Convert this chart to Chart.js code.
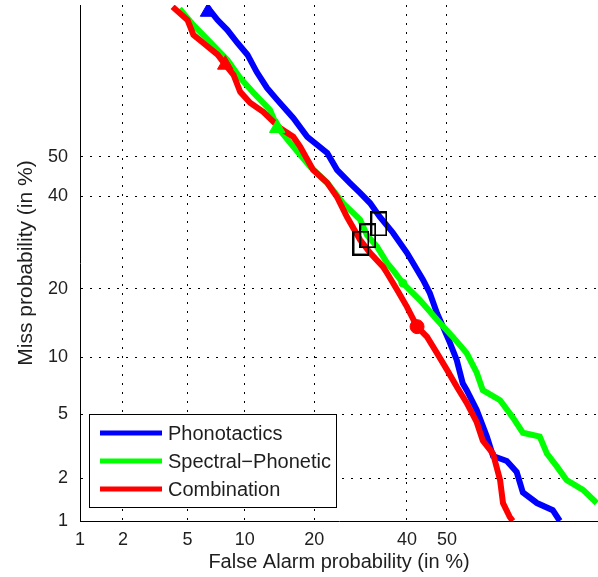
<!DOCTYPE html>
<html>
<head>
<meta charset="utf-8">
<script src="https://cdn.jsdelivr.net/npm/chart.js@4"></script>
<style>
  html, body { margin: 0; padding: 0; background: #fff; }
  #det { display: block; }
</style>
</head>
<body>
<canvas id="det" width="598" height="577"></canvas>
<script>
// Valores (en %)
const faTicks = [1, 2, 5, 10, 20, 40, 50];
const missTicks = [1, 2, 5, 10, 20, 40, 50];
const faRange = [1, 83.1];
const missRange = [1, 83.4];

const phonoFa   = [6.5, 7.3, 8.2, 9.2, 10.3, 11.4, 12.7, 14.1, 16.5, 18.8, 22.4, 24.3, 26.9, 29.1, 31.3, 33.5, 36.6, 40.0, 41.5, 44.0, 45.7, 47.5, 49.0, 50.8, 52.5, 54.0, 55.0, 57.5, 60.0, 61.5, 64.8, 67.1, 68.5, 71.6, 74.9, 76.3];
const phonoMiss = [82.9, 80.9, 79.1, 76.7, 74.3, 70.6, 67.0, 64.2, 59.8, 55.1, 51.0, 46.7, 43.4, 40.9, 38.4, 35.1, 31.4, 27.0, 24.9, 21.6, 19.2, 15.9, 13.9, 11.7, 9.7, 7.4, 6.8, 5.3, 3.7, 2.8, 2.6, 2.2, 1.6, 1.35, 1.2, 1.0];

const specFa   = [4.5, 5.4, 6.1, 8.2, 9.5, 11.0, 13.1, 14.1, 16.5, 19.3, 22.4, 25.5, 29.1, 30.6, 32.9, 35.2, 36.6, 39.0, 43.2, 47.5, 51.5, 55.0, 57.5, 59.0, 63.2, 66.2, 68.5, 72.2, 73.7, 75.7, 77.6, 80.6, 82.9];
const specMiss = [82.8, 80.0, 78.2, 73.2, 69.3, 65.9, 61.8, 57.6, 52.6, 47.5, 43.4, 38.4, 34.4, 30.9, 28.3, 24.9, 23.5, 21.0, 18.0, 14.9, 12.5, 10.5, 8.4, 6.8, 6.0, 4.8, 3.9, 3.7, 2.9, 2.4, 1.95, 1.67, 1.35];

const combFa   = [4.1, 5.0, 5.4, 6.1, 7.3, 8.0, 8.8, 9.5, 10.6, 12.2, 14.5, 16.5, 17.6, 19.8, 22.4, 24.3, 26.3, 29.1, 31.3, 34.3, 35.2, 37.6, 40.0, 42.5, 45.0, 47.5, 50.0, 52.5, 55.0, 57.5, 59.0, 61.5, 63.2, 63.9, 65.5, 66.2];
const combMiss = [83.1, 80.9, 78.2, 76.7, 74.3, 72.2, 70.0, 66.1, 63.5, 61.3, 57.3, 55.1, 52.6, 46.7, 43.4, 39.9, 35.1, 29.8, 27.0, 24.1, 22.9, 19.8, 16.9, 13.9, 12.5, 10.5, 8.7, 7.1, 5.8, 4.5, 3.5, 2.9, 1.95, 1.35, 1.07, 1.0];

// marcadores: triangulos, circulos y cajas (minDCF)
const triFa = [6.5, 8.0, 14.1];
const triMiss = [82.3, 72.2, 57.3];
const circFa = [39.0, 42.5];
const circMiss = [21.0, 13.9];
const boxFa = [33.3, 30.8, 29.3];
const boxMiss = [33.4, 30.7, 29.1];

const seriesNames = ['Phonotactics', 'Spectral\u2212Phonetic', 'Combination'];
const seriesColors = ['#0000ff', '#00ff00', '#ff0000'];

// inversa de la normal (Acklam)
function probit(p) {
  const a = [-39.69683028665376, 220.9460984245205, -275.9285104469687, 138.3577518672690, -30.66479806614716, 2.506628277459239];
  const b = [-54.47609879822406, 161.5858368580409, -155.6989798598866, 66.80131188771972, -13.28068155288572];
  const c = [-0.007784894002430293, -0.3223964580411365, -2.400758277161838, -2.549732539343734, 4.374664141464968, 2.938163982698783];
  const d = [0.007784695709041462, 0.3224671290700398, 2.445134137142996, 3.754408661907416];
  const plow = 0.02425;
  if (p < plow) {
    const q = Math.sqrt(-2 * Math.log(p));
    return (((((c[0]*q+c[1])*q+c[2])*q+c[3])*q+c[4])*q+c[5]) / ((((d[0]*q+d[1])*q+d[2])*q+d[3])*q+1);
  }
  if (p <= 1 - plow) {
    const q = p - 0.5, r = q * q;
    return (((((a[0]*r+a[1])*r+a[2])*r+a[3])*r+a[4])*r+a[5])*q / (((((b[0]*r+b[1])*r+b[2])*r+b[3])*r+b[4])*r+1);
  }
  const q = Math.sqrt(-2 * Math.log(1 - p));
  return -(((((c[0]*q+c[1])*q+c[2])*q+c[3])*q+c[4])*q+c[5]) / ((((d[0]*q+d[1])*q+d[2])*q+d[3])*q+1);
}

const pz = v => probit(v / 100);
const toPoints = (xs, ys) => xs.map((x, i) => ({ x: pz(x), y: pz(ys[i]) }));

// caja negra para el minimo DCF
function boxMarker(w, h) {
  const c = document.createElement('canvas');
  c.width = w; c.height = h;
  const g = c.getContext('2d');
  g.strokeStyle = '#000';
  g.lineWidth = 2;
  g.strokeRect(1, 1, w - 2, h - 2);
  return c;
}

const curve = (i, xs, ys, order) => ({
  label: seriesNames[i],
  data: toPoints(xs, ys),
  showLine: true,
  borderColor: seriesColors[i],
  backgroundColor: seriesColors[i],
  borderWidth: 6,
  pointRadius: 0,
  tension: 0,
  order: order,
  isSeries: true
});

const markerSet = (xs, ys, style, radius, colors) => ({
  data: toPoints(xs, ys),
  showLine: false,
  pointStyle: style,
  pointRadius: radius,
  pointBackgroundColor: colors,
  pointBorderColor: colors,
  pointBorderWidth: 1,
  order: 0
});

const fontFam = '"Liberation Sans", Arial, Helvetica, sans-serif';
const txtColor = '#1e1e1e';

// leyenda dibujada dentro del area
const legendBox = {
  id: 'legendBox',
  afterDraw(chart) {
    const ctx = chart.ctx;
    const area = chart.chartArea;
    const x0 = area.left + 9, y1 = area.bottom - 14;
    const w = 247, h = 93, y0 = y1 - h;
    ctx.save();
    ctx.fillStyle = '#fff';
    ctx.fillRect(x0, y0, w, h);
    ctx.strokeStyle = '#000';
    ctx.lineWidth = 1;
    ctx.strokeRect(x0 + 0.5, y0 + 0.5, w, h);
    ctx.font = '20px ' + fontFam;
    ctx.textBaseline = 'middle';
    const series = chart.data.datasets.filter(d => d.isSeries);
    series.sort((a, b) => seriesNames.indexOf(a.label) - seriesNames.indexOf(b.label));
    series.forEach((ds, i) => {
      const yy = y0 + 19 + i * 28;
      ctx.strokeStyle = ds.borderColor;
      ctx.lineWidth = 5;
      ctx.beginPath();
      ctx.moveTo(x0 + 11, yy);
      ctx.lineTo(x0 + 73, yy);
      ctx.stroke();
      ctx.fillStyle = txtColor;
      ctx.fillText(ds.label, x0 + 79, yy + 1);
    });
    ctx.restore();
  }
};

const ctx = document.getElementById('det').getContext('2d');
const detChart = new Chart(ctx, {
  type: 'scatter',
  data: {
    datasets: [
      markerSet(boxFa, boxMiss, boxMarker(17, 25), 10, '#000'),
      markerSet(triFa, triMiss, 'triangle', 9, ['#0000ff', '#ff0000', '#00ff00']),
      markerSet(circFa, circMiss, 'circle', [4, 7], ['#00ff00', '#ff0000']),
      curve(2, combFa, combMiss, 1),
      curve(1, specFa, specMiss, 2),
      curve(0, phonoFa, phonoMiss, 3)
    ]
  },
  options: {
    responsive: false,
    animation: false,
    layout: { autoPadding: false, padding: { top: 5, right: 0, left: 0, bottom: 0 } },
    plugins: { legend: { display: false }, tooltip: { enabled: false } },
    scales: {
      x: {
        type: 'linear',
        min: pz(faRange[0]),
        max: pz(faRange[1]),
        afterBuildTicks: s => { s.ticks = faTicks.map(t => ({ value: pz(t) })); },
        afterFit: s => { s.height = 56; s.paddingLeft = 0; s.paddingRight = 0; },
        ticks: {
          callback: (v, i) => faTicks[i],
          font: { size: 18, family: fontFam },
          color: txtColor,
          padding: 8,
          maxRotation: 0
        },
        grid: { color: '#000', lineWidth: 1, drawTicks: false },
        border: { color: '#000', width: 1, dash: [2, 7] },
        title: {
          display: true,
          text: 'False Alarm probability (in %)',
          font: { size: 20, family: fontFam },
          color: txtColor,
          padding: { top: 0, bottom: 3 }
        }
      },
      y: {
        type: 'linear',
        min: pz(missRange[0]),
        max: pz(missRange[1]),
        afterBuildTicks: s => { s.ticks = missTicks.map(t => ({ value: pz(t) })); },
        afterFit: s => { s.width = 80; s.paddingTop = 0; s.paddingBottom = 0; },
        ticks: {
          callback: (v, i) => missTicks[i],
          font: { size: 18, family: fontFam },
          color: txtColor,
          padding: 12
        },
        grid: { color: '#000', lineWidth: 1, drawTicks: false },
        border: { color: '#000', width: 1, dash: [2, 7] },
        title: {
          display: true,
          text: 'Miss probability (in %)',
          font: { size: 21, family: fontFam },
          color: txtColor,
          padding: { top: 14, bottom: 0 }
        }
      }
    }
  },
  plugins: [legendBox]
});
</script>
</body>
</html>
